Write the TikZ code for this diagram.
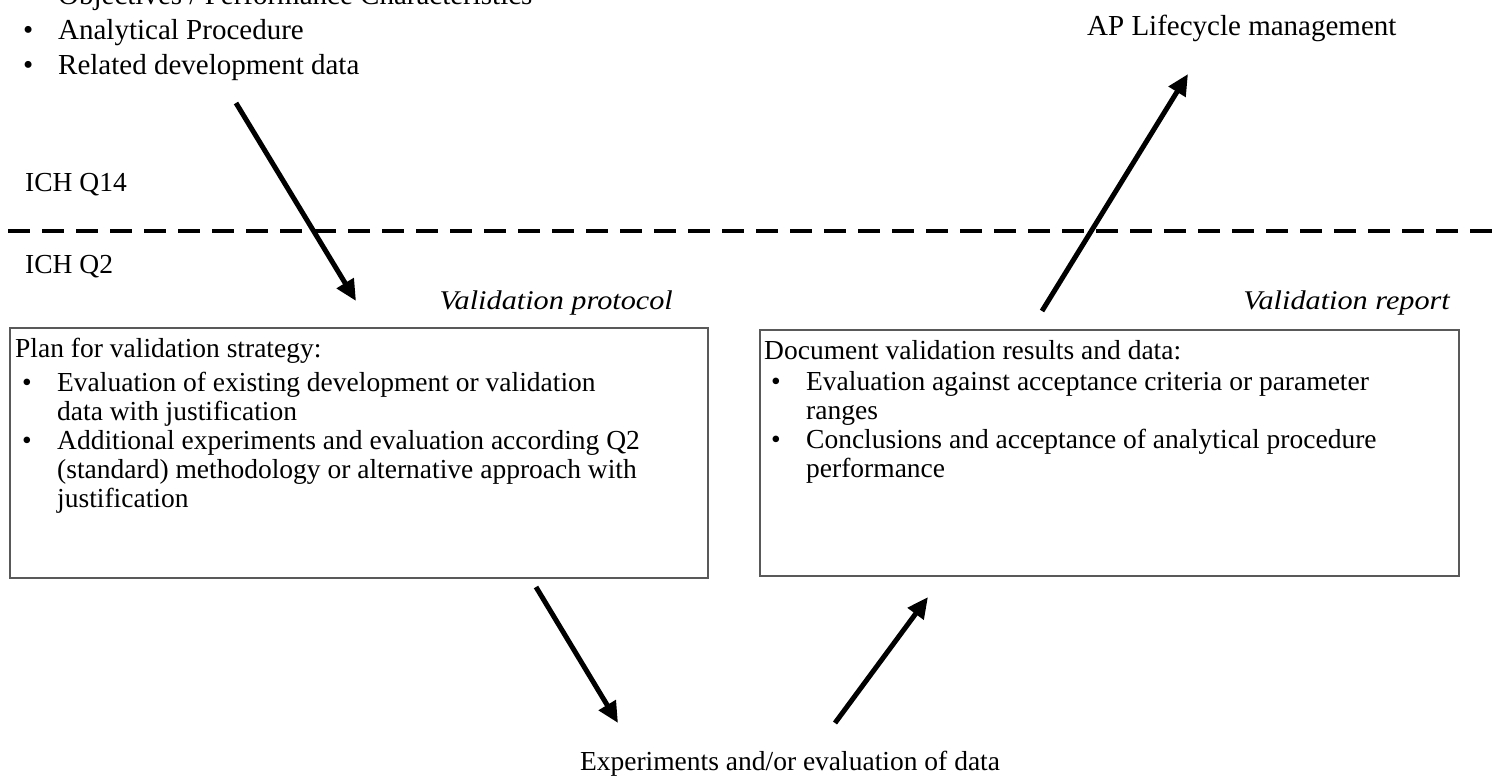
\documentclass[tikz,border=0pt]{standalone}
\usepackage{fontspec}
\setmainfont{Liberation Serif}
\newfontfamily\lblfont[FakeStretch=1.12]{Liberation Serif}
\usetikzlibrary{arrows.meta,positioning,calc}

\newcommand{\bul}{\hspace*{7pt}\makebox[35pt][l]{\textbullet}}
\newcommand{\ind}{\hspace*{42pt}}

\tikzset{
  flow/.style={line width=5pt, -{Triangle[length=21pt,width=19pt]}},
  panel/.style={draw=black!65, line width=2.2pt, inner sep=0pt, anchor=north west},
  txt/.style={inner sep=0pt, align=left, font=\fontsize{29}{35}\selectfont},
  boxtxt/.style={inner sep=0pt, align=left, font=\fontsize{27.5}{29}\selectfont},
  lbl/.style={inner sep=0pt, font=\fontsize{27}{33}\selectfont\lblfont\itshape},
}

\begin{document}
\begin{tikzpicture}[x=1pt, y=-1pt]

    \useasboundingbox (0,0) rectangle (1496,783);
    \clip (0,0) rectangle (1496,783);

    % ICH Q14 / ICH Q2 boundary
    \draw[line width=4.5pt, dash pattern=on 22pt off 12pt] (8,231) -- (1496,231);
    \node[boxtxt, anchor=base west] (q14) at (25,192) {ICH Q14};
    \node[boxtxt, anchor=base west] (q2) at (25,274) {ICH Q2};

    % inputs and lifecycle
    \node[txt, anchor=north west] (inputs) at (16,-16) {%
        \bul Objectives / Performance Characteristics\\
        \bul Analytical Procedure\\
        \bul Related development data};
    \node[txt, anchor=base west] (lcm) at (1087,36) {AP Lifecycle management};

    % protocol box
    \node[panel, minimum width=698pt, minimum height=250pt] (plan) at (9,327) {};
    \node[lbl, anchor=base east] (protocol) at (673,310) {Validation protocol};
    \node[boxtxt, anchor=north west] (plantext) at (15,338) {%
        Plan for validation strategy:\\[5pt]
        \bul Evaluation of existing development or validation\\
        \ind data with justification\\
        \bul Additional experiments and evaluation according Q2\\
        \ind (standard) methodology or alternative approach with\\
        \ind justification};

    % report box
    \node[panel, minimum width=699pt, minimum height=246pt] (report) at (759,329) {};
    \node[lbl, anchor=base east] (reportlbl) at (1450,310) {Validation report};
    \node[boxtxt, anchor=north west] (reporttext) at (764,340) {%
        Document validation results and data:\\[2pt]
        \bul Evaluation against acceptance criteria or parameter\\
        \ind ranges\\
        \bul Conclusions and acceptance of analytical procedure\\
        \ind performance};

    % experiments
    \node[boxtxt, anchor=base] (expts) at (790,770) {Experiments and/or evaluation of data};

    % arrow ends
    \coordinate (a1s) at (236,103);
    \coordinate (a1e) at (356,301);
    \coordinate (a2s) at (536,587);
    \coordinate (a2e) at (618,723);
    \coordinate (a3s) at (835,723);
    \coordinate (a3e) at (928,597);
    \coordinate (a4s) at (1042,311);
    \coordinate (a4e) at (1188,74);

    \draw[flow] (a1s) -- (a1e);
    \draw[flow] (a2s) -- (a2e);
    \draw[flow] (a3s) -- (a3e);
    \draw[flow] (a4s) -- (a4e);

\end{tikzpicture}
\end{document}
